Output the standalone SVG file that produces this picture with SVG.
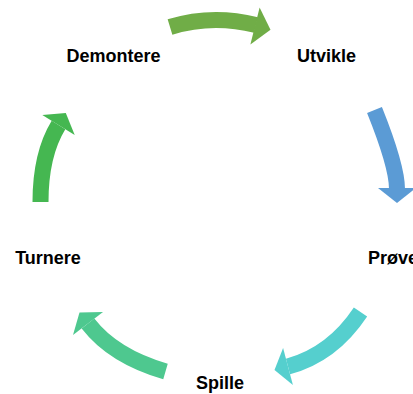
<svg xmlns="http://www.w3.org/2000/svg" width="413" height="394" viewBox="0 0 413 394">
<style>
.lbl{font-family:"Liberation Sans",Arial,sans-serif;font-weight:bold;font-size:18px;fill:#000}
.shaft{fill:none;stroke-width:16;stroke-linecap:butt}
</style>
<rect width="413" height="394" fill="#fff"/>
<g id="connectors">
<g id="arrow-demontere-utvikle">
<path class="shaft" stroke="#70AD47" d="M170,27 Q212,14 256,25"/>
<polygon fill="#70AD47" points="259.6,7.6 270.5,29.8 250.4,44.4"/>
</g>
<g id="arrow-utvikle-prove">
<path class="shaft" stroke="#5B9BD5" d="M374.5,110 Q397,166 397,189"/>
<polygon fill="#5B9BD5" points="378,188 397,203 416,188"/>
</g>
<g id="arrow-prove-spille">
<path class="shaft" stroke="#55CFCE" d="M360.5,312 Q332.2,354.6 288,366.5"/>
<polygon fill="#55CFCE" points="283.1,348.1 274.5,370.1 292.9,384.9"/>
</g>
<g id="arrow-spille-turnere">
<path class="shaft" stroke="#4EC88F" d="M165.5,371.5 Q113.3,356.3 88,323.5"/>
<polygon fill="#4EC88F" points="103,311.9 79.5,312.4 73,335.1"/>
</g>
<g id="arrow-turnere-demontere">
<path class="shaft" stroke="#45B751" d="M40.5,202 Q40.5,154.4 58.5,125"/>
<polygon fill="#45B751" points="42.3,115.1 65.8,113.1 74.7,134.9"/>
</g>
</g>
<g id="node-demontere"><text class="lbl" x="113.5" y="62" text-anchor="middle">Demontere</text></g>
<g id="node-utvikle"><text class="lbl" x="326.5" y="62" text-anchor="middle">Utvikle</text></g>
<g id="node-prove"><text class="lbl" x="368" y="264">Prøve</text></g>
<g id="node-spille"><text class="lbl" x="220" y="389" text-anchor="middle">Spille</text></g>
<g id="node-turnere"><text class="lbl" x="48" y="264" text-anchor="middle">Turnere</text></g>
</svg>
